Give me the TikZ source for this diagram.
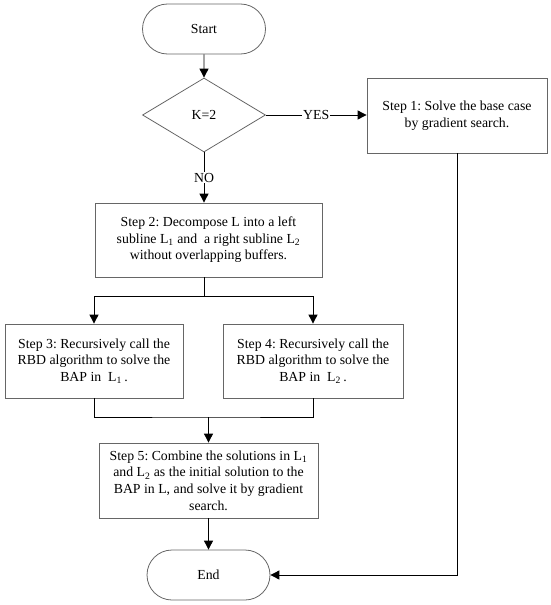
\documentclass[tikz,border=0pt]{standalone}
\usepackage{fontspec}
\setmainfont{Liberation Serif}
\usetikzlibrary{shapes.geometric,shapes.misc,arrows.meta}
\frenchspacing
\begin{document}
\begin{tikzpicture}[x=1pt,y=-1pt,
  every node/.style={font=\fontsize{13.8}{16.6}\selectfont},
  box/.style={draw=black!60, line width=0.8pt, align=center, inner sep=0pt, fill=white},
  term/.style={draw=black!60, line width=0.8pt, rounded rectangle, inner sep=0pt, minimum width=123pt, minimum height=50pt},
  dec/.style={draw=black!60, line width=0.8pt, diamond, inner sep=0pt, minimum width=123pt, minimum height=74pt},
  conn/.style={line width=0.9pt, black},
  arr/.style={conn, -{Triangle[length=9pt,width=9pt]}},
  lbl/.style={fill=white, inner sep=1pt}
]
\useasboundingbox (0,0) rectangle (550,605);

\node[term] (start) at (204,29) {Start};
\node[dec] (k) at (204,115) {K=2};
\node[box, minimum width=180pt, minimum height=75pt] (s1) at (457,115.5) {Step 1: Solve the base case\\by gradient search.};
\node[box, minimum width=227pt, minimum height=74pt] (s2) at (208.5,240) {Step 2: Decompose L into a left\\subline L\textsubscript{1} and\ \ a right subline L\textsubscript{2}\\without overlapping buffers.};
\node[box, minimum width=178pt, minimum height=74pt] (s3) at (94,361) {Step 3: Recursively call the\\RBD algorithm to solve the\\BAP in\ \ L\textsubscript{1}\,.};
\node[box, minimum width=180pt, minimum height=74pt] (s4) at (313,361) {Step 4: Recursively call the\\RBD algorithm to solve the\\BAP in\ \ L\textsubscript{2}\,.};
\node[box, minimum width=219pt, minimum height=75pt] (s5) at (208.5,480.5) {Step 5: Combine the solutions in L\textsubscript{1}\\and L\textsubscript{2} as the initial solution to the\\BAP in L, and solve it by gradient\\search.};
\node[term] (end) at (208.5,575) {End};

\coordinate (sp) at (204,296);
\coordinate (jn) at (208.5,417);

\draw[arr] (start) -- (k);
\draw[arr] (k.east) -- node[lbl, pos=0.5] {YES} (k.east -| s1.west);
\draw[arr] (k.south) -- node[lbl, pos=0.5] {NO} (k.south |- s2.north);
\draw[conn] (sp |- s2.south) -- (sp);
\draw[arr] (sp) -| (s3.north);
\draw[arr] (sp) -| (s4.north);
\draw[conn] (s3.south) |- (jn) -| (s4.south);
\draw[arr] (jn) -- (jn |- s5.north);
\draw[arr] (s5.south) -- (end.north);
\draw[arr] (s1.south) |- (end.east);
\end{tikzpicture}
\end{document}
